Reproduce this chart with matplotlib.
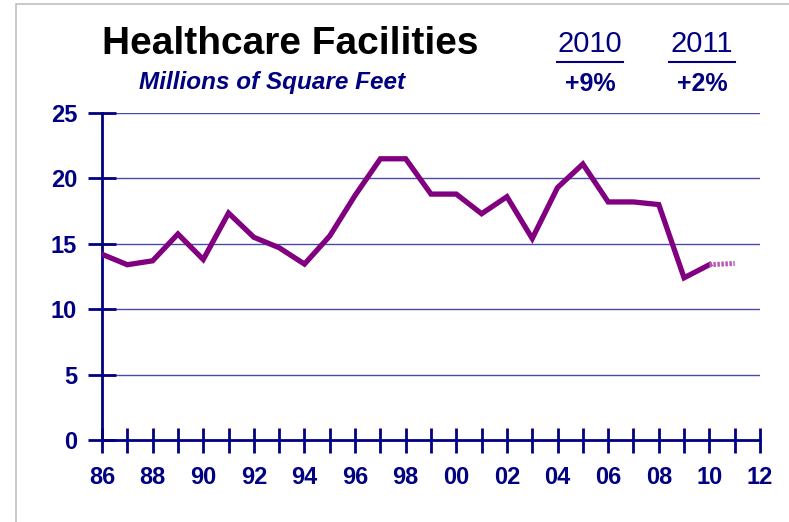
import matplotlib

matplotlib.use("Agg")
import matplotlib.pyplot as plt
from matplotlib.patches import Rectangle

# square feet of healthcare construction, millions
years = [1986, 1987, 1988, 1989, 1990, 1991, 1992, 1993, 1994, 1995, 1996, 1997, 1998,
         1999, 2000, 2001, 2002, 2003, 2004, 2005, 2006, 2007, 2008, 2009, 2010]
sq_feet = [14.2, 13.4, 13.7, 15.75, 13.8, 17.35, 15.5, 14.7, 13.45, 15.6, 18.7, 21.5, 21.5,
           18.8, 18.8, 17.3, 18.6, 15.4, 19.3, 21.1, 18.2, 18.2, 18.0, 12.4, 13.4]
forecast_years = [2010, 2011]
forecast_values = [13.4, 13.5]

change_years = ["2010", "2011"]
change_pcts = ["+9%", "+2%"]

y_ticks = [0, 5, 10, 15, 20, 25]
x_label_years = list(range(1986, 2013, 2))

NAVY = "#000080"
PURPLE = "#800080"

plt.rcParams["font.family"] = ["Liberation Sans", "DejaVu Sans"]

fig = plt.figure(figsize=(7.89, 5.22), dpi=100)
fig.patches.append(Rectangle((16 / 789, -0.1), 1.2, (1 - 4 / 522) + 0.1, transform=fig.transFigure,
                             fill=False, edgecolor="#c0c0c0", linewidth=1.2))

ax = fig.add_axes([102 / 789, 1 - 440 / 522, (760 - 102) / 789, (440 - 113) / 522])
ax.set_xlim(1986, 2012)
ax.set_ylim(0, 25)

for y in y_ticks[1:]:
    ax.axhline(y, color="#4a4aa8", linewidth=1.0, zorder=1)

ax.plot(years, sq_feet, color=PURPLE, linewidth=3.8, solid_joinstyle="miter", zorder=3)
ax.plot(forecast_years, forecast_values, color="#b85ab8", linewidth=3.6, linestyle=(0, (0.5, 0.3)),
        zorder=3)

for side in ["top", "right"]:
    ax.spines[side].set_visible(False)
for side in ["left", "bottom"]:
    ax.spines[side].set_color(NAVY)
    ax.spines[side].set_linewidth(2)

ax.set_yticks(y_ticks)
ax.set_xticks(range(1986, 2013))
ax.set_xticklabels([f"{y % 100:02d}" if y in x_label_years else "" for y in range(1986, 2013)])
ax.tick_params(axis="both", direction="inout", color=NAVY, width=2, labelcolor=NAVY)
ax.tick_params(axis="y", length=20, pad=8, labelsize=17)
ax.tick_params(axis="x", length=18, pad=10, labelsize=17)
for lbl in ax.get_xticklabels() + ax.get_yticklabels():
    lbl.set_fontweight("bold")

fig.text(290 / 789, 1 - 44 / 522, "Healthcare Facilities", fontsize=28, fontweight="bold",
         color="black", ha="center", va="center")
fig.text(272 / 789, 1 - 83 / 522, "Millions of Square Feet", fontsize=17.5, fontweight="bold",
         style="italic", color=NAVY, ha="center", va="center")

for i, (yr, pct) in enumerate(zip(change_years, change_pcts)):
    cx = (590 + 112 * i) / 789
    fig.text(cx, 1 - 44 / 522, yr, fontsize=21, color=NAVY, ha="center", va="center")
    fig.add_artist(plt.Line2D([cx - 33 / 789, cx + 33 / 789], [1 - 62 / 522] * 2, color=NAVY,
                              linewidth=1.5, transform=fig.transFigure))
    fig.text(cx, 1 - 84 / 522, pct, fontsize=18, fontweight="bold", color=NAVY,
             ha="center", va="center")

fig.savefig("out.png", dpi=100)
